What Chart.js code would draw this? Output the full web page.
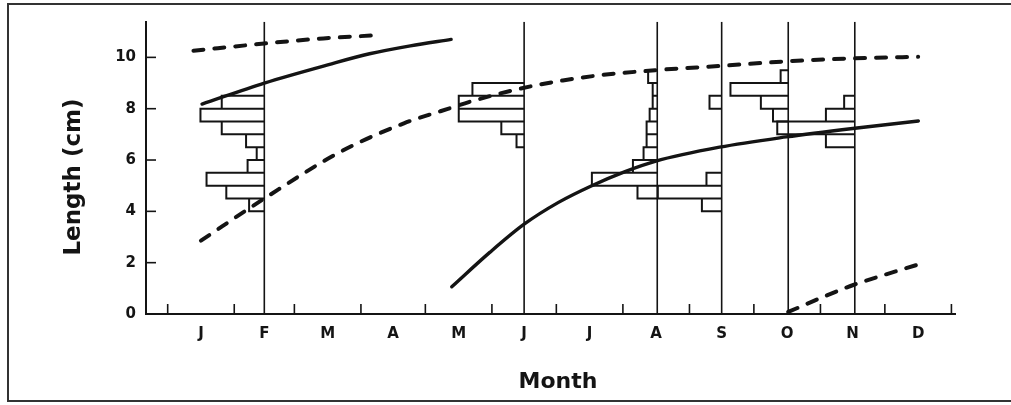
<!DOCTYPE html>
<html>
<head>
<meta charset="utf-8">
<script src="https://cdn.jsdelivr.net/npm/chart.js@4.4.1/dist/chart.umd.min.js"></script>
<style>
html,body{margin:0;padding:0;background:#fff;}
#wrap{width:1011px;height:405px;position:relative;}
</style>
</head>
<body>
<div id="wrap"><canvas id="c"></canvas></div>
<script>
// ---- axis data ----
const monthLabels = ['J','F','M','A','M','J','J','A','S','O','N','D'];
const monthStartDays = [0,31,59,90,120,151,181,212,243,273,304,334,365];
const monthMidDays = [15.5,45,74.5,105,135.5,166,196.5,227.5,258,288.5,319,349.5];
const yTickValues = [0,2,4,6,8,10];

// ---- sampling dates (day of year) ----
const sampleDays = [45, 166, 228, 258, 289, 320];

// ---- length-frequency histograms (0.5 cm bins, lowest bin lower edge in cm) ----
const histBinWidth = 0.5;
const histStarts = [4.0, 6.5, 4.5, 4.0, 7.5, 6.5];
const febFreq = [5, 12.5, 19, 5.5, 2.5, 6, 14, 21, 14];
const junFreq = [2.5, 7.5, 21.5, 21.5, 17];
const augFreq = [6.5, 21.5, 8, 4.5, 3.5, 3.5, 2.5, 1.5, 1.5, 3];
const sepFreq = [6.5, 21, 5, 0, 0, 0, 0, 0, 4];
const octFreq = [5, 9, 19, 2.5];
const novFreq = [9.5, 25.5, 9.5, 3.5];

// ---- growth curves (day of year, length cm) ----
const solidA_days = [16, 45, 75, 94, 113, 132];
const solidA_len  = [8.18, 9.0, 9.72, 10.14, 10.45, 10.7];
const dashA_days  = [12, 45, 72.5, 99];
const dashA_len   = [10.26, 10.54, 10.74, 10.87];
const dashB_days  = [15.5, 45, 80, 110, 127, 142, 159, 172, 184, 201, 227, 258, 289, 319, 349.5];
const dashB_len   = [2.86, 4.5, 6.3, 7.43, 7.9, 8.3, 8.68, 8.92, 9.1, 9.3, 9.5, 9.67, 9.85, 9.96, 10.02];
const solidB_days = [132.3, 150, 166, 182, 197.5, 213, 227, 257, 288, 319, 349.6];
const solidB_len  = [1.06, 2.4, 3.5, 4.35, 5.0, 5.55, 5.95, 6.5, 6.9, 7.23, 7.52];
const dashC_days  = [289, 304, 319.3, 348.8];
const dashC_len   = [0.08, 0.62, 1.13, 1.91];

const X_MIN = -10.1, X_MAX = 366.9, Y_MIN = 0, Y_MAX = 11.39;
const FREQ_TO_DAYS = 1.416;
const INK = '#141414';

function pts(xs, ys){ return xs.map((x,i)=>({x:x, y:ys[i]})); }
function histogramOutline(day, start, freq){
  const out = [];
  freq.forEach((f,i)=>{
    if(!f) return;
    const lo = start + i*histBinWidth, hi = lo + histBinWidth, left = day - f*FREQ_TO_DAYS;
    out.push({x:day,y:lo},{x:left,y:lo},{x:left,y:hi},{x:day,y:hi},{x:NaN,y:NaN});
  });
  return out;
}
const histFreqs = [febFreq, junFreq, augFreq, sepFreq, octFreq, novFreq];

const datasets = [];
// vertical sampling lines
sampleDays.forEach(d=>{
  datasets.push({data:[{x:d,y:Y_MIN},{x:d,y:Y_MAX}], borderColor:INK, borderWidth:1.6, pointRadius:0, fill:false});
});
// histograms
histFreqs.forEach((f,i)=>{
  datasets.push({data:histogramOutline(sampleDays[i], histStarts[i], f), borderColor:INK, borderWidth:2,
    pointRadius:0, fill:false, spanGaps:false, tension:0, borderJoinStyle:'miter'});
});
// curves
const solidStyle = {borderColor:INK, borderWidth:3.4, pointRadius:0, fill:false, cubicInterpolationMode:'monotone', borderCapStyle:'round'};
const dashStyle = {borderColor:INK, borderWidth:4, pointRadius:0, fill:false, cubicInterpolationMode:'monotone', borderDash:[10,11], borderCapStyle:'round'};
datasets.push(Object.assign({data:pts(solidA_days, solidA_len)}, solidStyle));
datasets.push(Object.assign({data:pts(solidB_days, solidB_len)}, solidStyle));
datasets.push(Object.assign({data:pts(dashA_days, dashA_len)}, dashStyle));
datasets.push(Object.assign({data:pts(dashB_days, dashB_len)}, dashStyle));
datasets.push(Object.assign({data:pts(dashC_days, dashC_len)}, dashStyle));

const decor = {
  id:'decor',
  afterDraw(chart){
    const {ctx, chartArea:a, scales:{x,y}} = chart;
    ctx.save();
    ctx.strokeStyle = INK;
    ctx.lineWidth = 1.6;
    monthStartDays.forEach(d=>{
      const px = x.getPixelForValue(d);
      ctx.beginPath(); ctx.moveTo(px, a.bottom); ctx.lineTo(px, a.bottom-10); ctx.stroke();
    });
    yTickValues.forEach(v=>{
      const py = y.getPixelForValue(v);
      ctx.beginPath(); ctx.moveTo(a.left, py); ctx.lineTo(a.left+10, py); ctx.stroke();
    });
    // axis titles
    ctx.fillStyle = INK;
    ctx.textAlign = 'center';
    ctx.textBaseline = 'middle';
    ctx.font = 'bold 22px "DejaVu Sans"';
    ctx.fillText('Month', 558, 382);
    ctx.save();
    ctx.translate(74, 177);
    ctx.rotate(-Math.PI/2);
    ctx.font = 'bold 23px "DejaVu Sans"';
    ctx.fillText('Length (cm)', 0, 0);
    ctx.restore();
    // frame
    ctx.strokeStyle = '#333';
    ctx.lineWidth = 2;
    ctx.beginPath(); ctx.moveTo(1011, 4); ctx.lineTo(8, 4); ctx.lineTo(8, 401); ctx.lineTo(1011, 401); ctx.stroke();
    ctx.restore();
  }
};

new Chart(document.getElementById('c'), {
  type:'line',
  data:{datasets},
  options:{
    responsive:true, maintainAspectRatio:false, animation:false,
    layout:{padding:{left:0, top:21.7, right:55.5, bottom:0}},
    plugins:{legend:{display:false}, tooltip:{enabled:false}},
    elements:{line:{tension:0}},
    scales:{
      x:{type:'linear', min:X_MIN, max:X_MAX,
        afterFit(s){ s.height = 91; },
        afterBuildTicks(s){ s.ticks = monthMidDays.map(v=>({value:v})); },
        grid:{display:false, drawTicks:false},
        border:{display:true, color:INK, width:2},
        ticks:{autoSkip:false, maxRotation:0, padding:11, color:INK,
          font:{family:'"DejaVu Sans"', size:15, weight:'bold'},
          callback:(v,i)=>monthLabels[i]}
      },
      y:{type:'linear', min:Y_MIN, max:Y_MAX,
        afterFit(s){ s.width = 146; },
        afterBuildTicks(s){ s.ticks = yTickValues.map(v=>({value:v})); },
        grid:{display:false, drawTicks:false},
        border:{display:true, color:INK, width:2},
        ticks:{padding:10, color:INK,
          font:{family:'"DejaVu Sans"', size:15, weight:'bold'},
          callback:(v)=>String(v)}
      }
    }
  },
  plugins:[decor]
});
</script>
</body>
</html>
